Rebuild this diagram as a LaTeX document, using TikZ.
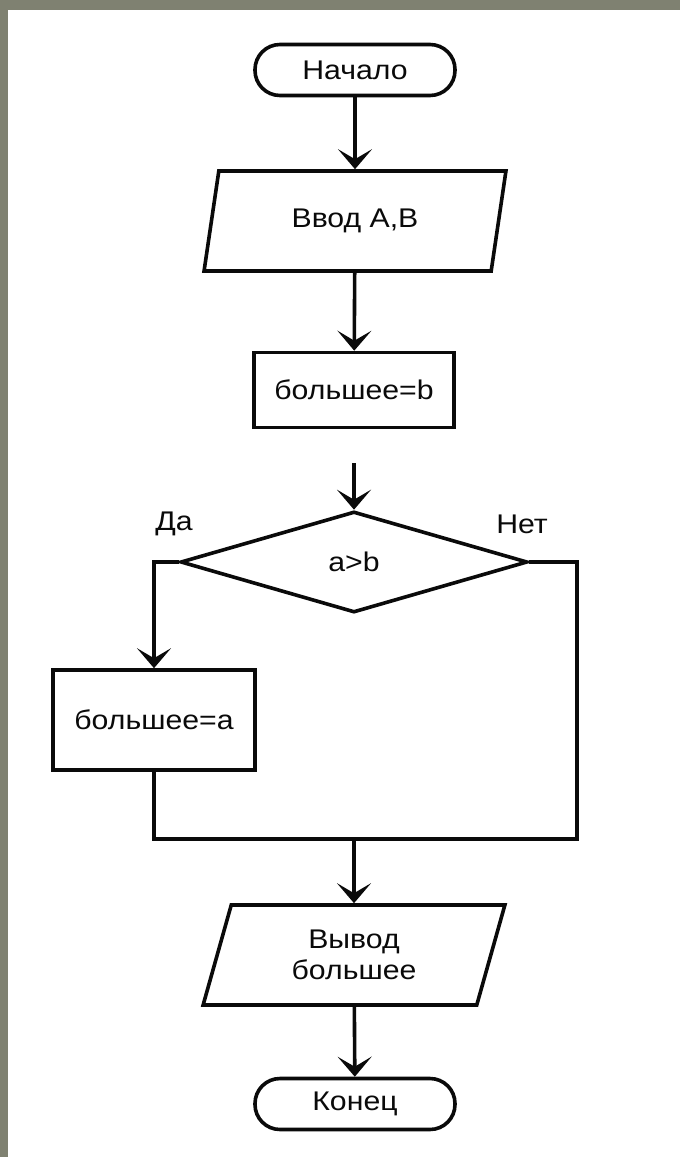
\documentclass[tikz,border=0pt]{standalone}
\usepackage{fontspec}
\setmainfont{Liberation Sans}[FakeStretch=1.12]
\usepackage{tikz}
\usetikzlibrary{
  shapes.geometric,
  arrows.meta,
  positioning
}
\definecolor{FrameGray}{RGB}{127, 129, 113}
\definecolor{LineBlack}{RGB}{10, 10, 10}

\begin{document}
\begin{tikzpicture}[x=1pt, y=-1pt,
    every node/.style={font=\fontsize{27}{31}\selectfont, text=LineBlack},
    terminal/.style={draw=LineBlack, line width=3.6pt, rectangle, rounded corners=25pt, minimum width=200pt, minimum height=51pt, inner sep=0pt},
    iobox/.style={draw=LineBlack, line width=3.6pt, trapezium, trapezium left angle=74, trapezium right angle=106, trapezium stretches=true, minimum width=302pt, minimum height=100pt, inner sep=0pt, align=center},
    procbox/.style={draw=LineBlack, line width=3.6pt, rectangle, inner sep=0pt},
    decision/.style={draw=LineBlack, line width=3.6pt, diamond, aspect=3.4, minimum width=347pt, minimum height=101pt, inner sep=0pt},
    flow/.style={draw=LineBlack, line width=3.6pt, -{Stealth[length=20pt, width=34pt, inset=10pt]}},
    link/.style={draw=LineBlack, line width=3.6pt}
  ]
                \useasboundingbox (0,0) rectangle (680,1157);
                \fill[white] (0,0) rectangle (680,1157);
                \fill[FrameGray] (0,0) rectangle (680,10);
                \fill[FrameGray] (0,0) rectangle (8,1157);

                \node[terminal] (start) at (355,70) {Начало};
                \node[iobox] (input) at (355,221) {Ввод A,B};
                \node[procbox, minimum width=200pt, minimum height=75pt] (setb) at (354,390) {большее=b};
                \node[decision] (cmp) at (354,562) {a>b};
                \node[procbox, minimum width=202pt, minimum height=100pt] (seta) at (154,720) {большее=a};
                \node[iobox] (output) at (354,955) {Вывод\\большее};
                \node[terminal] (stop) at (355,1104) {Конец};

                \node (yes) at (174,524) {Да};
                \node (no) at (522,524) {Нет};

                \coordinate (gap) at (354,463);
                \coordinate (merge) at (354,839);
                \coordinate (corner) at (577,839);

                % arrows
                \draw[flow] (start) -- (input);
                \draw[flow] (input) -- (setb);
                \draw[flow] (gap) -- (cmp.north);
                \draw[flow] (cmp.west) -| (seta.north);
                \draw[link] (seta.south) |- (corner) |- (cmp.east);
                \draw[flow] (merge) -- (output.north);
                \draw[flow] (output) -- (stop);
            \end{tikzpicture}
\end{document}
